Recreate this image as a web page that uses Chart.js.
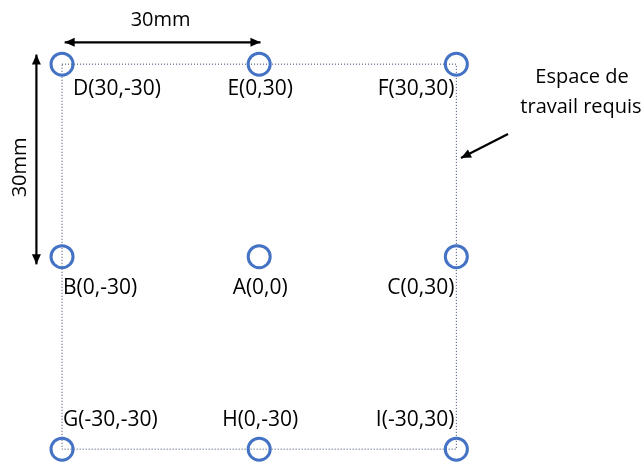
<!DOCTYPE html>
<html>
<head>
<meta charset="utf-8">
<script src="https://cdn.jsdelivr.net/npm/chart.js@4"></script>
<style>
  body { margin: 0; background: #fff; }
</style>
</head>
<body>
<canvas id="chartEspace" width="641" height="462"></canvas>
<script>
// points du plan de travail (mm)
const pointNames = ["D(30,-30)", "E(0,30)", "F(30,30)", "B(0,-30)", "A(0,0)", "C(0,30)", "G(-30,-30)", "H(0,-30)", "I(-30,30)"];
const pointX = [-30, 0, 30, -30, 0, 30, -30, 0, 30];
const pointY = [30, 30, 30, 0, 0, 0, -30, -30, -30];

// espace de travail requis
const zoneX = [-30, 30, 30, -30, -30];
const zoneY = [30, 30, -30, -30, 30];

const cotes = ["30mm", "30mm"];
const legende = ["Espace de", "travail requis"];

const arrowLine = (ctx, x1, y1, x2, y2, both) => {
  const head = (xa, ya, xb, yb) => {
    const ang = Math.atan2(yb - ya, xb - xa);
    ctx.beginPath();
    ctx.moveTo(xb, yb);
    ctx.lineTo(xb - 11 * Math.cos(ang - 0.42), yb - 11 * Math.sin(ang - 0.42));
    ctx.lineTo(xb - 11 * Math.cos(ang + 0.42), yb - 11 * Math.sin(ang + 0.42));
    ctx.closePath();
    ctx.fill();
  };
  ctx.beginPath();
  ctx.moveTo(x1, y1);
  ctx.lineTo(x2, y2);
  ctx.stroke();
  head(x1, y1, x2, y2);
  if (both) head(x2, y2, x1, y1);
};

const annotations = {
  id: "annotations",
  afterDatasetsDraw: (chart) => {
    const { ctx } = chart;
    const xs = chart.scales.x;
    const ys = chart.scales.y;
    ctx.save();
    ctx.fillStyle = "#000";
    ctx.strokeStyle = "#000";
    ctx.lineWidth = 2.2;
    ctx.font = "21px 'Open Sans'";
    ctx.textBaseline = "middle";

    //etiquettes des points
    pointNames.forEach((name, i) => {
      const px = xs.getPixelForValue(pointX[i]);
      const py = ys.getPixelForValue(pointY[i]);
      const col = i % 3;
      const row = Math.floor(i / 3);
      let tx = px;
      if (col === 0) { ctx.textAlign = "left"; tx = px + (row === 0 ? 11 : 1); }
      else if (col === 1) { ctx.textAlign = "center"; tx = px + 1; }
      else { ctx.textAlign = "right"; tx = px - 2; }
      const ty = row === 0 ? py + 25 : row === 1 ? py + 31 : py - 29;
      ctx.fillText(name, tx, ty);
    });

    ctx.font = "20px 'Open Sans'";
    //cote horizontale
    const yTop = ys.getPixelForValue(33.4);
    arrowLine(ctx, xs.getPixelForValue(-29.6), yTop, xs.getPixelForValue(0.2), yTop, true);
    ctx.textAlign = "center";
    ctx.fillText(cotes[0], (xs.getPixelForValue(-30) + xs.getPixelForValue(0)) / 2, yTop - 22);

    //cote verticale
    const xLeft = xs.getPixelForValue(-33.9);
    arrowLine(ctx, xLeft, ys.getPixelForValue(31.5), xLeft, ys.getPixelForValue(-1.2), true);
    ctx.save();
    ctx.translate(xLeft - 16, (ys.getPixelForValue(30) + ys.getPixelForValue(0)) / 2 + 7);
    ctx.rotate(-Math.PI / 2);
    ctx.fillText(cotes[1], 0, 0);
    ctx.restore();

    //legende de la zone
    ctx.font = "20px 'Open Sans'";
    ctx.textAlign = "center";
    ctx.fillText(legende[0], 582, 77);
    ctx.fillText(legende[1], 581, 107);
    arrowLine(ctx, 508, 134, 461, 158, false);
    ctx.restore();
  },
};

const chartEspace = new Chart(document.getElementById("chartEspace"), {
  type: "scatter",
  data: {
    datasets: [
      {
        label: "Points",
        data: pointX.map((x, i) => ({ x: x, y: pointY[i] })),
        pointStyle: "circle",
        pointRadius: 11,
        pointBorderWidth: 3,
        borderColor: "#4472C4",
        backgroundColor: "rgba(0,0,0,0)",
        showLine: false,
      },
      {
        label: "Espace de travail requis",
        data: zoneX.map((x, i) => ({ x: x, y: zoneY[i] })),
        showLine: true,
        borderColor: "#2F3F66",
        borderWidth: 1,
        borderDash: [1, 2],
        pointRadius: 0,
        tension: 0,
      },
    ],
  },
  options: {
    responsive: false,
    animation: false,
    layout: { padding: 0, autoPadding: false },
    scales: {
      x: { type: "linear", display: false, min: -39.44, max: 58.1 },
      y: { type: "linear", display: false, min: -32.0, max: 40.0 },
    },
    plugins: {
      legend: { display: false },
      tooltip: { enabled: false },
    },
  },
  plugins: [annotations],
});
</script>
</body>
</html>
